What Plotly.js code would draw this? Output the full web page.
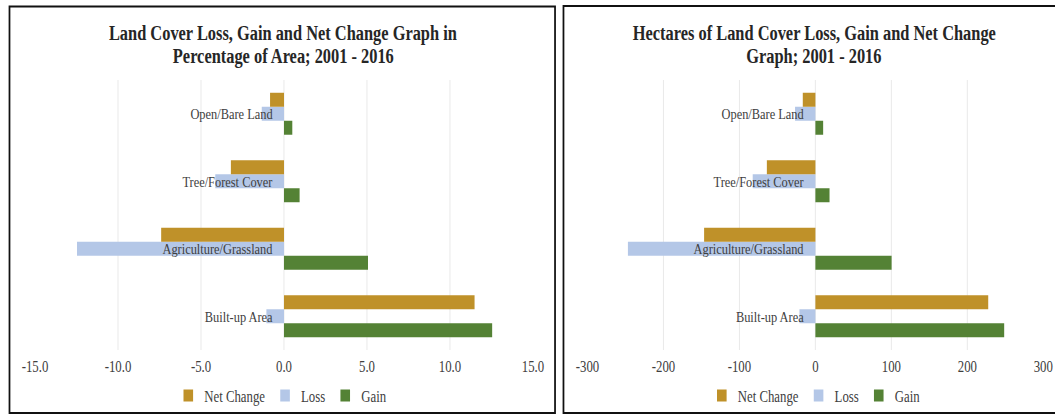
<!DOCTYPE html>
<html>
<head>
<meta charset="utf-8">
<script src="https://cdn.plot.ly/plotly-3.0.1.min.js"></script>
<style>
  html, body { margin: 0; padding: 0; overflow: hidden; background: #ffffff; }
  #chart { width: 1319px; height: 416px; transform: scaleX(0.79985); transform-origin: 0 0; }
</style>
</head>
<body>
<div id="chart"></div>
<script>
// ---- data ----
const categories = ['Built-up Area', 'Agriculture/Grassland', 'Tree/Forest Cover', 'Open/Bare Land'];
const seriesNames = ['Net Change', 'Loss', 'Gain'];

const pctNet  = [11.48, -7.40, -3.20, -0.84];
const pctLoss = [-1.06, -12.47, -4.14, -1.34];
const pctGain = [12.54, 5.06, 0.94, 0.50];

const haNet  = [227.5, -146.5, -63.9, -16.6];
const haLoss = [-21.0, -246.8, -82.5, -26.8];
const haGain = [248.5, 100.3, 18.6, 10.2];

const pctTickVals = [-15, -10, -5, 0, 5, 10, 15];
const pctTickText = ['-15.0', '-10.0', '-5.0', '0.0', '5.0', '10.0', '15.0'];
const haTickVals = [-300, -200, -100, 0, 100, 200, 300];
const haTickText = ['-300', '-200', '-100', '0', '100', '200', '300'];

const leftTitle  = ['Land Cover Loss, Gain and Net Change Graph in', 'Percentage of Area; 2001 - 2016'];
const rightTitle = ['Hectares of Land Cover Loss, Gain and Net Change', 'Graph; 2001 - 2016'];

// ---- styles ----
const colors = { 'Net Change': '#BF9129', 'Loss': '#B4C7E7', 'Gain': '#548235' };
const serif = 'Liberation Serif, Times New Roman, serif';
const textColor = '#404040';

function traces(net, loss, gain, xa, ya, legend, showlegend) {
  const vals = { 'Net Change': net, 'Loss': loss, 'Gain': gain };
  // bottom-to-top order inside each group: Gain, Loss, Net Change
  return ['Gain', 'Loss', 'Net Change'].map(name => ({
    type: 'bar', orientation: 'h', name: name,
    y: categories, x: vals[name],
    xaxis: xa, yaxis: ya, legend: legend,
    marker: { color: colors[name], line: { width: 0 } },
    hoverinfo: 'skip', showlegend: showlegend
  }));
}

const data = [].concat(
  traces(pctNet, pctLoss, pctGain, 'x', 'y', 'legend', true),
  traces(haNet, haLoss, haGain, 'x2', 'y2', 'legend2', true)
);

function xaxisCfg(domain, range, vals, text) {
  return {
    domain: domain, range: range, tickmode: 'array', tickvals: vals, ticktext: text,
    showgrid: true, gridcolor: '#e6e6e6', gridwidth: 1, zeroline: false,
    showline: false, ticks: '', ticklabelstandoff: 5,
    tickfont: { family: serif, size: 16, color: textColor }, fixedrange: true
  };
}
function yaxisCfg(anchor) {
  return {
    domain: [0.15865, 0.80769], anchor: anchor, type: 'category',
    categoryorder: 'array', categoryarray: categories,
    showticklabels: false, showgrid: false, zeroline: false, showline: false, ticks: '',
    fixedrange: true
  };
}

const annotations = [];
function addTitle(lines, xc) {
  const ys = [0.9183, 0.8630];
  lines.forEach((t, i) => annotations.push({
    xref: 'paper', yref: 'paper', x: xc, y: ys[i], xanchor: 'center', yanchor: 'middle',
    text: '<b>' + t + '</b>', showarrow: false,
    font: { family: serif, size: 20.5, color: '#262626' }
  }));
}
addTitle(leftTitle, 0.2685);
addTitle(rightTitle, 0.7716);

function addCatLabels(xref, yref) {
  categories.forEach(c => annotations.push({
    xref: xref, yref: yref, x: 0, y: c, xanchor: 'right', yanchor: 'middle',
    xshift: -12, text: c, showarrow: false,
    font: { family: serif, size: 15.5, color: textColor }
  }));
}
addCatLabels('x', 'y');
addCatLabels('x2', 'y2');

const legendCfg = (x) => ({
  orientation: 'h', x: x, y: 0.0493, xanchor: 'center', yanchor: 'middle',
  traceorder: 'reversed', itemwidth: 30, itemclick: false, itemdoubleclick: false,
  font: { family: serif, size: 16, color: textColor }, bgcolor: 'rgba(0,0,0,0)'
});

const layout = {
  width: 1319, height: 416,
  margin: { l: 0, r: 0, t: 0, b: 0 },
  paper_bgcolor: '#ffffff', plot_bgcolor: '#ffffff',
  barmode: 'group', bargap: 0.378, bargroupgap: 0,
  xaxis: xaxisCfg([0.03318, 0.50521], [-15, 15], pctTickVals, pctTickText),
  yaxis: yaxisCfg('x'),
  xaxis2: xaxisCfg([0.55687, 0.98891], [-300, 300], haTickVals, haTickText),
  yaxis2: yaxisCfg('x2'),
  legend: legendCfg(0.2668),
  legend2: legendCfg(0.7725),
  annotations: annotations,
  shapes: [
    { type: 'rect', xref: 'paper', yref: 'paper', x0: 0.0090, x1: 0.5261, y0: 0.0072, y1: 0.9844,
      line: { color: '#111111', width: 2.2 }, fillcolor: 'rgba(0,0,0,0)', layer: 'above' },
    { type: 'rect', xref: 'paper', yref: 'paper', x0: 0.5341, x1: 1.02, y0: 0.0072, y1: 0.9856,
      line: { color: '#111111', width: 2.2 }, fillcolor: 'rgba(0,0,0,0)', layer: 'above' }
  ],
  showlegend: true
};

Plotly.newPlot('chart', data, layout, { displayModeBar: false, staticPlot: true });
</script>
</body>
</html>
